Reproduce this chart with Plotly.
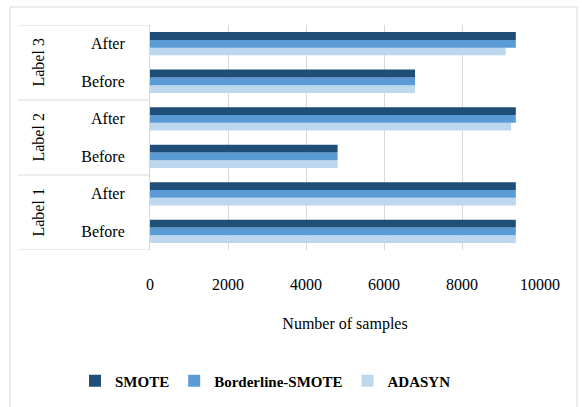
import plotly.graph_objects as go

# ---- data ----
groups = ["Label 1", "Label 1", "Label 2", "Label 2", "Label 3", "Label 3"]
stages = ["Before", "After", "Before", "After", "Before", "After"]
smote = [9380, 9380, 4810, 9380, 6796, 9380]
borderline = [9380, 9380, 4810, 9380, 6796, 9380]
adasyn = [9380, 9380, 4810, 9260, 6796, 9122]
group_names = ["Label 1", "Label 2", "Label 3"]
x_ticks = [0, 2000, 4000, 6000, 8000, 10000]

cats = [f"{g}|{s}" for g, s in zip(groups, stages)]

FONT = "Liberation Serif"
GRID = "#d9d9d9"

fig = go.Figure()
# add bottom-most series first so SMOTE sits on top within each group
for name, vals, col in [("ADASYN", adasyn, "#BDD7EE"),
                        ("Borderline-SMOTE", borderline, "#5B9BD5"),
                        ("SMOTE", smote, "#1F4E79")]:
    fig.add_trace(go.Bar(y=cats, x=vals, orientation="h", name=name,
                         marker=dict(color=col, line=dict(width=0))))

L, R, T, B = 150, 42, 25, 157
W, H = 582, 407
pw, ph = W - L - R, H - T - B

def px_x(p):
    return (p - L) / pw

def px_y(p):
    return (H - B - p) / ph

shapes = [
    # outer frame (bottom edge lies outside the canvas)
    dict(type="rect", xref="paper", yref="paper", x0=px_x(10), x1=px_x(577),
         y0=px_y(440), y1=px_y(7), line=dict(color=GRID, width=1), layer="below"),
]
for yb in [-0.5, 1.5, 3.5, 5.5]:
    shapes.append(dict(type="line", xref="paper", yref="y", x0=px_x(18), x1=0,
                       y0=yb, y1=yb, line=dict(color=GRID, width=1)))

annotations = []
for i, g in enumerate(group_names):
    annotations.append(dict(text=g, xref="paper", yref="y", x=px_x(38),
                            xanchor="center", yanchor="middle",
                            y=2 * i + 0.5, showarrow=False, textangle=-90,
                            font=dict(family=FONT, size=16, color="#000")))

fig.update_layout(
    width=W, height=H,
    margin=dict(l=L, r=R, t=T, b=B, autoexpand=False),
    paper_bgcolor="white", plot_bgcolor="white",
    barmode="group", bargap=0.38, bargroupgap=0,
    font=dict(family=FONT, size=16, color="#000"),
    shapes=shapes, annotations=annotations,
    legend=dict(orientation="h", traceorder="reversed",
                xref="container", yref="container",
                x=75 / W, xanchor="left", y=1 - 381 / H, yanchor="middle",
                font=dict(family=FONT, size=15, color="#000", weight="bold")),
    xaxis=dict(range=[0, 10000], tickvals=x_ticks, ticktext=[str(v) for v in x_ticks],
               showgrid=True, gridcolor=GRID, gridwidth=1, zeroline=False,
               showline=False, ticks="", ticklabelstandoff=23,
               tickfont=dict(family=FONT, size=16),
               title=dict(text="Number of samples", standoff=25,
                          font=dict(family=FONT, size=16))),
    yaxis=dict(type="category", categoryorder="array", categoryarray=cats,
               tickvals=cats, ticktext=stages, range=[-0.5, 5.5],
               tickfont=dict(family=FONT, size=16),
               showgrid=False, zeroline=False, showline=True, linecolor=GRID,
               linewidth=1, ticks="", ticklabelstandoff=21),
)

fig.write_html("out.html", config={"displayModeBar": False},
               post_script="document.body.style.margin='0';document.body.style.padding='0';")
